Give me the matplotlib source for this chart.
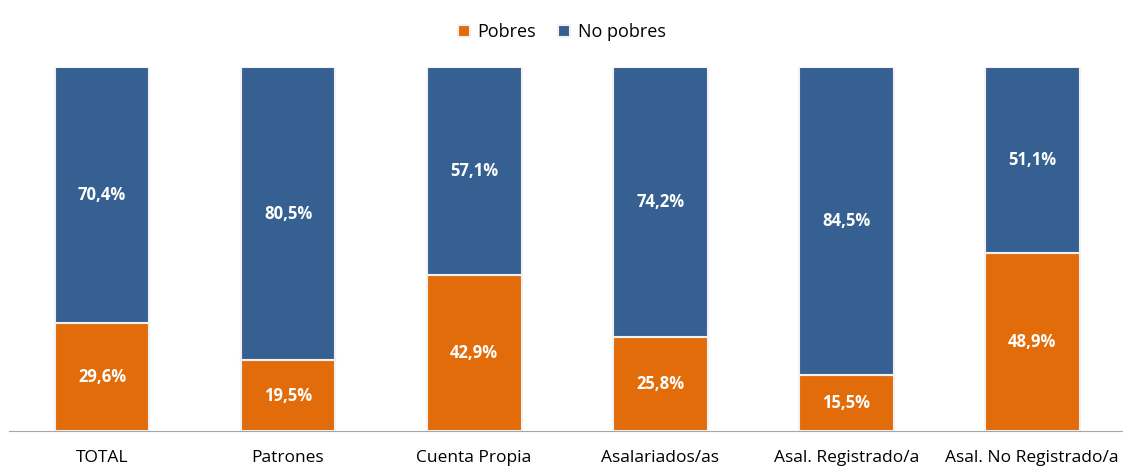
import matplotlib.pyplot as plt

categorias = ['TOTAL', 'Patrones', 'Cuenta Propia', 'Asalariados/as',
              'Asal. Registrado/a', 'Asal. No Registrado/a']
pobres = [29.6, 19.5, 42.9, 25.8, 15.5, 48.9]
no_pobres = [70.4, 80.5, 57.1, 74.2, 84.5, 51.1]

color_pobres = '#E36C0A'
color_no_pobres = '#366092'

plt.rcParams['font.family'] = ['Open Sans', 'DejaVu Sans']

fig = plt.figure(figsize=(11.23, 4.66), dpi=100)
ax = fig.add_axes([0.008, 0.075, 0.994, 0.781])

x = range(len(categorias))
b1 = ax.bar(x, pobres, width=0.51, color=color_pobres, edgecolor='#f2f2f2',
            linewidth=1.5, label='Pobres')
b2 = ax.bar(x, no_pobres, width=0.51, bottom=pobres, color=color_no_pobres,
            edgecolor='#f2f2f2', linewidth=1.5, label='No pobres')

for bars, vals, base in [(b1, pobres, [0] * 6), (b2, no_pobres, pobres)]:
    for rect, v, b in zip(bars, vals, base):
        ax.text(rect.get_x() + rect.get_width() / 2, b + v / 2,
                f'{v:.1f}%'.replace('.', ','), ha='center', va='center',
                color='white', fontsize=12, fontweight='bold')

ax.set_xlim(-0.5, len(categorias) - 0.5)
ax.set_ylim(0, 100)
ax.set_xticks(list(x))
ax.set_xticklabels(categorias, fontsize=12.5)
ax.tick_params(axis='x', length=0, pad=14)
ax.set_yticks([])
for s in ['top', 'right', 'left']:
    ax.spines[s].set_visible(False)
ax.spines['bottom'].set_color('#a6a6a6')

fig.legend(loc='upper center', bbox_to_anchor=(0.5, 0.985), ncol=2,
           frameon=False, fontsize=13, handlelength=0.7, handleheight=0.7,
           handletextpad=0.4, columnspacing=1.2)

fig.savefig('out.png', dpi=100)
